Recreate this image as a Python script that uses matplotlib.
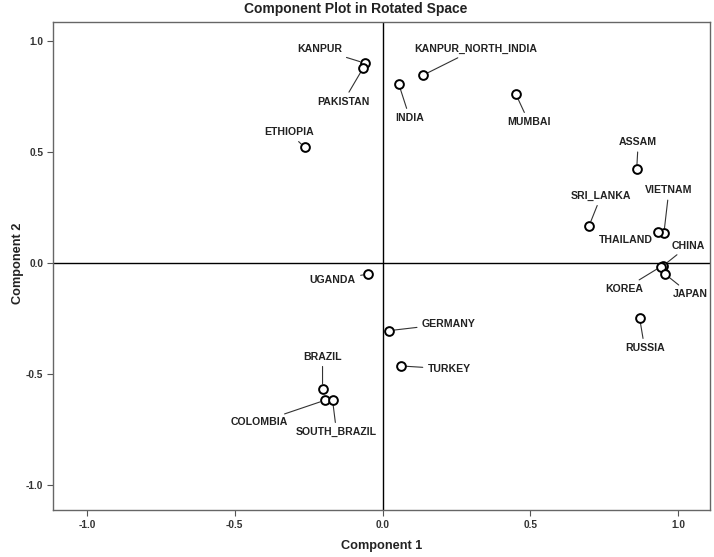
import matplotlib
matplotlib.use('Agg')
import matplotlib.pyplot as plt

plt.rcParams['font.family'] = ['Liberation Sans', 'DejaVu Sans']

# Datos: cargas de los componentes rotados
names = ['KANPUR', 'PAKISTAN', 'KANPUR_NORTH_INDIA', 'INDIA', 'MUMBAI', 'ETHIOPIA',
         'ASSAM', 'SRI_LANKA', 'VIETNAM', 'THAILAND', 'CHINA', 'KOREA', 'JAPAN',
         'UGANDA', 'GERMANY', 'TURKEY', 'RUSSIA', 'BRAZIL', 'COLOMBIA', 'SOUTH_BRAZIL']
comp1 = [-0.061, -0.065, 0.138, 0.055, 0.451, -0.263,
         0.860, 0.699, 0.952, 0.932, 0.950, 0.941, 0.956,
         -0.050, 0.021, 0.063, 0.870, -0.203, -0.196, -0.169]
comp2 = [0.901, 0.880, 0.847, 0.806, 0.761, 0.521,
         0.423, 0.168, 0.134, 0.138, -0.012, -0.017, -0.050,
         -0.050, -0.305, -0.464, -0.249, -0.566, -0.619, -0.619]
ticks = [-1.0, -0.5, 0.0, 0.5, 1.0]
tick_labels = ['-1.0', '-0.5', '0.0', '0.5', '1.0']

# Desplazamiento de etiquetas (pixeles)
offsets = {
    'KANPUR': (-45, 14), 'PAKISTAN': (-20, -34), 'KANPUR_NORTH_INDIA': (52, 26),
    'INDIA': (11, -34), 'MUMBAI': (13, -28), 'ETHIOPIA': (-16, 15),
    'ASSAM': (1.5, 27), 'SRI_LANKA': (12, 30), 'VIETNAM': (5, 43),
    'THAILAND': (-32, -8), 'CHINA': (25, 20), 'KOREA': (-36, -22),
    'JAPAN': (25, -20), 'UGANDA': (-35, -6), 'GERMANY': (60, 7),
    'TURKEY': (48, -3), 'RUSSIA': (5, -30), 'BRAZIL': (0, 32),
    'COLOMBIA': (-65, -22), 'SOUTH_BRAZIL': (4, -32),
}

fig = plt.figure(figsize=(7.14, 5.57), dpi=100)
ax = fig.add_axes([53 / 714, 47 / 557, 657 / 714, 488 / 557])

ax.axhline(0, color='black', lw=1.0, zorder=1)
ax.axvline(0, color='black', lw=1.0, zorder=1)

ax.plot(comp1, comp2, 'o', mfc='white', mec='black', mew=1.4, ms=6.3, zorder=3, ls='none')

for n, x, y in zip(names, comp1, comp2):
    dx, dy = offsets[n]
    ax.annotate(n, (x, y), xytext=(dx * 0.72, dy * 0.72), textcoords='offset points',
                ha='center', va='center', fontsize=7.6, fontweight='bold', color='#222222',
                arrowprops=dict(arrowstyle='-', color='#333333', lw=0.8,
                                shrinkA=1.5, shrinkB=3.5), zorder=2)

ax.set_xlim(-1.115, 1.108)
ax.set_ylim(-1.113, 1.086)
ax.set_xticks(ticks)
ax.set_xticklabels(tick_labels)
ax.set_yticks(ticks)
ax.set_yticklabels(tick_labels)
ax.tick_params(direction='out', length=4, width=0.8, color='#555555',
               labelsize=7.3, pad=3, top=False, right=False)
for lab in ax.get_xticklabels() + ax.get_yticklabels():
    lab.set_fontweight('bold')
    lab.set_color('#333333')
for s in ax.spines.values():
    s.set_color('#666666')
    s.set_linewidth(1.0)

fig.text(356 / 714, 1 - 9 / 557, 'Component Plot in Rotated Space', ha='center', va='center',
         fontsize=10, fontweight='bold', color='#222222')
fig.text(382 / 714, 1 - 546 / 557, 'Component 1', ha='center', va='center',
         fontsize=9.2, fontweight='bold', color='#222222')
fig.text(18 / 714, 1 - 263 / 557, 'Component 2', ha='center', va='center', rotation=90,
         fontsize=9.2, fontweight='bold', color='#222222')

plt.savefig('out.png', dpi=100)
